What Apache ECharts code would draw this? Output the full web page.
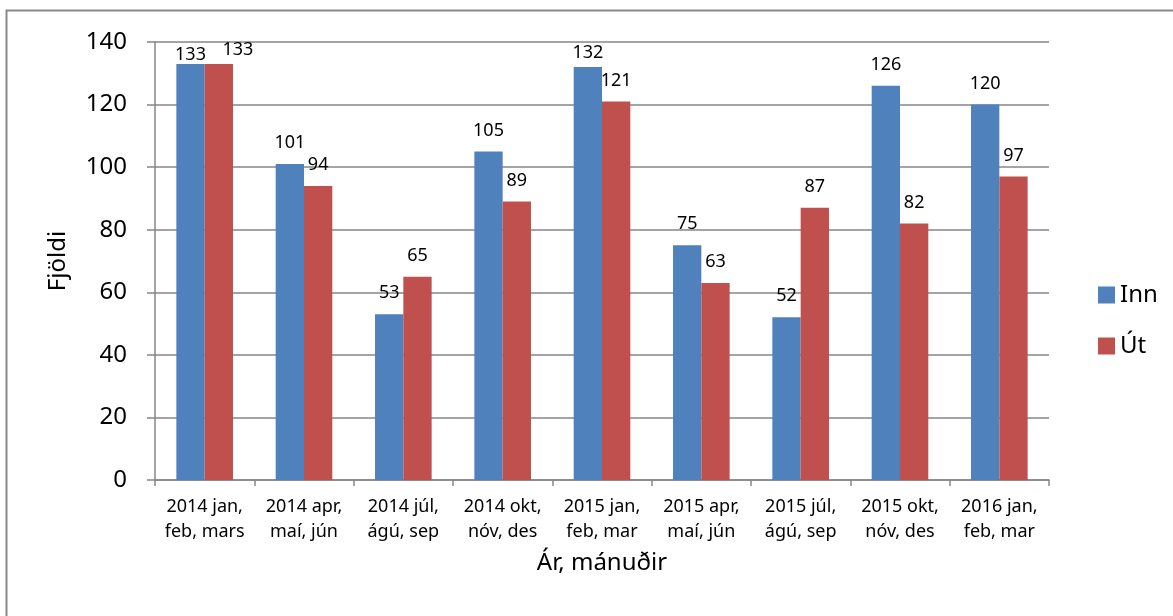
<!DOCTYPE html>
<html><head><meta charset="utf-8">
<script src="https://cdn.jsdelivr.net/npm/echarts@6/dist/echarts.min.js"></script>
<style>html,body{margin:0;padding:0;background:#fff}#c{width:1173px;height:616px}</style>
</head><body><div id="c"></div>
<script>
const categories = ['2014 jan,\nfeb, mars','2014 apr,\nmaí, jún','2014 júl,\nágú, sep','2014 okt,\nnóv, des','2015 jan,\nfeb, mar','2015 apr,\nmaí, jún','2015 júl,\nágú, sep','2015 okt,\nnóv, des','2016 jan,\nfeb, mar'];
const inn = [133,101,53,105,132,75,52,126,120];
const ut = [133,94,65,89,121,63,87,82,97];
const yTicks = {min:0, max:140, interval:20};
const font = 'Noto Sans, sans-serif';
// label placement tweaks (style only) for labels near the plot top
const innLabelTweaks = {0:{distance:0}, 4:{distance:5}};
const utLabelTweaks = {0:{distance:5, offset:[19,0]}};
function withTweaks(values, tweaks){
  return values.map((v,i)=> tweaks[i] ? {value:v, label:tweaks[i]} : v);
}
const chart = echarts.init(document.getElementById('c'));
chart.setOption({
  animation:false,
  textStyle:{fontFamily:font},
  graphic:[{type:'rect',shape:{x:6.5,y:10.5,width:1200,height:700},style:{fill:'none',stroke:'#898989',lineWidth:2},z:-1}],
  grid:{left:155,right:124,top:42,bottom:136},
  legend:{orient:'vertical',left:1093,top:278,itemWidth:17,itemHeight:17,itemGap:27,icon:'rect',
    textStyle:{fontSize:24,color:'#000',fontFamily:font},data:['Inn','Út']},
  xAxis:{type:'category',data:categories,
    axisLine:{lineStyle:{color:'#868686',width:1.5}},
    axisTick:{show:true,length:6,lineStyle:{color:'#868686',width:1.5}},
    axisLabel:{color:'#000',fontSize:18,lineHeight:25,margin:14,interval:0,fontFamily:font},
    name:'Ár, mánuðir',nameLocation:'middle',nameGap:71,nameTextStyle:{fontSize:24,color:'#000',fontFamily:font}},
  yAxis:{type:'value',min:yTicks.min,max:yTicks.max,interval:yTicks.interval,
    axisLine:{show:true,lineStyle:{color:'#868686',width:1.5}},
    axisTick:{show:true,length:8,lineStyle:{color:'#868686',width:1.5}},
    splitLine:{lineStyle:{color:'#868686',width:1.5}},
    axisLabel:{color:'#000',fontSize:24,margin:28,fontFamily:font},
    name:'Fjöldi',nameLocation:'middle',nameGap:85,nameRotate:90,nameTextStyle:{fontSize:24,color:'#000',fontFamily:font}},
  series:[
    {name:'Inn',type:'bar',data:withTweaks(inn,innLabelTweaks),barGap:'0%',barCategoryGap:'43%',itemStyle:{color:'#4F81BD'},
      label:{show:true,position:'top',distance:12,fontSize:18,color:'#000',fontFamily:font}},
    {name:'Út',type:'bar',data:withTweaks(ut,utLabelTweaks),itemStyle:{color:'#C0504D'},
      label:{show:true,position:'top',distance:12,fontSize:18,color:'#000',fontFamily:font}}
  ]
});
</script></body></html>
